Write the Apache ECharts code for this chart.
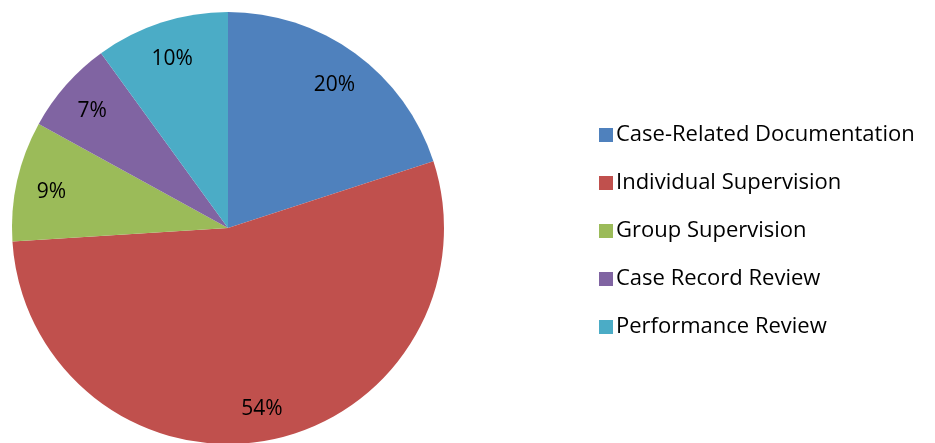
<!DOCTYPE html>
<html>
<head>
<meta charset="utf-8">
<script src="https://cdn.jsdelivr.net/npm/echarts@6/dist/echarts.min.js"></script>
<style>
  html, body { margin: 0; padding: 0; background: #fff; }
  #chart { width: 935px; height: 443px; }
</style>
</head>
<body>
<div id="chart"></div>
<script>
const categories = ['Case-Related Documentation', 'Individual Supervision', 'Group Supervision', 'Case Record Review', 'Performance Review']
const shares = [20, 54, 9, 7, 10]
const colors = ['#4F81BD', '#C0504D', '#9BBB59', '#8064A2', '#4BACC6']

const pieData = categories.map((name, i) => ({
  name,
  value: shares[i],
  itemStyle: { color: colors[i] }
}))

const chart = echarts.init(document.getElementById('chart'))

chart.setOption({
  backgroundColor: '#fff',
  animation: false,
  legend: {
    orient: 'vertical',
    left: 594,
    top: 119,
    itemWidth: 14,
    itemHeight: 14,
    itemGap: 26,
    icon: 'rect',
    textStyle: {
      fontFamily: 'Open Sans',
      fontSize: 22,
      lineHeight: 20,
      color: '#000',
      padding: [0, 0, 0, -2]
    },
    data: categories
  },
  series: [
    {
      type: 'pie',
      center: [228, 228],
      radius: [0, 216],
      startAngle: 90,
      clockwise: true,
      silent: true,
      label: { show: false },
      labelLine: { show: false },
      data: pieData
    },
    {
      // transparent ring used only to place the percentage labels
      type: 'pie',
      center: [228, 228],
      radius: [140, 216],
      startAngle: 90,
      clockwise: true,
      silent: true,
      itemStyle: { color: 'transparent' },
      label: {
        show: true,
        position: 'inside',
        formatter: '{c}%',
        fontFamily: 'Open Sans',
        fontSize: 21,
        color: '#000',
        offset: [0, 3]
      },
      labelLine: { show: false },
      data: categories.map((name, i) => ({ name, value: shares[i] }))
    }
  ]
})
</script>
</body>
</html>
